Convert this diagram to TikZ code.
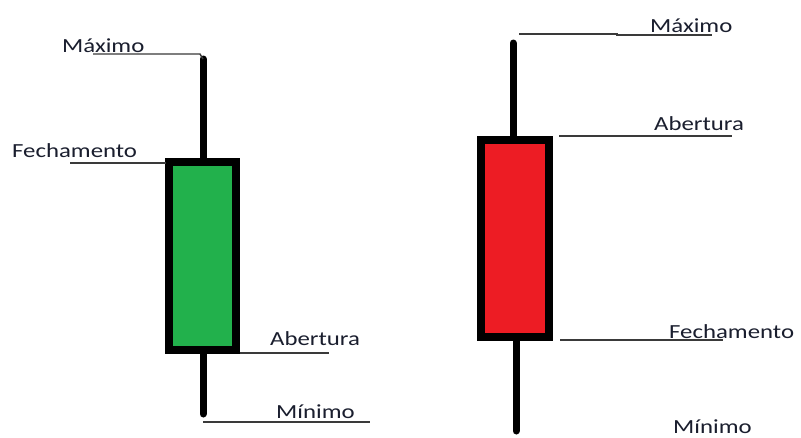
\documentclass[tikz,border=0pt]{standalone}
\usepackage{fontspec}
\setmainfont{Carlito}[FakeStretch=1.24]
\definecolor{txt}{HTML}{1A1E2E}
\definecolor{bullgreen}{HTML}{22B14C}
\definecolor{bearred}{HTML}{ED1C24}
\definecolor{leader}{HTML}{3A3A3A}
\tikzset{
  lbl/.style={anchor=base west, inner sep=0pt, font=\fontsize{20}{22}\selectfont, text=txt},
  wick/.style={line width=7pt, line cap=round, black},
  body/.style={line width=8pt, draw=black},
  lead/.style={line width=1.4pt, leader},
}
\begin{document}
\begin{tikzpicture}[x=1pt,y=-1pt]
\useasboundingbox (0,0) rectangle (801,437);
\fill[white] (0,0) rectangle (801,437);
% ---- left (bullish) candle ----
\coordinate (lwt) at (203,59);
\coordinate (lbt) at (203,162);
\coordinate (lbb) at (203,350);
\coordinate (lwb) at (203,414);
\draw[wick] (lwt) -- (lbt);
\draw[wick] (lbb) -- (lwb);
\draw[body, fill=bullgreen] (169,162) rectangle (236,350);
% labels left
\node[lbl] (lmax) at (62,52) {Máximo};
\node[lbl] (lfec) at (12,157) {Fechamento};
\node[lbl] (labe) at (270,345) {Abertura};
\node[lbl] (lmin) at (276,418) {Mínimo};
\coordinate (lmaxa) at (93,54);
\coordinate (lmaxb) at (200,54);
\coordinate (lfeca) at (70,163);
\coordinate (lfecb) at (166,163);
\coordinate (labea) at (240,353);
\coordinate (labeb) at (329,353);
\coordinate (lmina) at (203,422);
\coordinate (lminb) at (370,422);
\draw[lead] (lmaxa) -- (lmaxb) -- (lwt);
\draw[lead] (lfeca) -- (lfecb);
\draw[lead] (labea) -- (labeb);
\draw[lead] (lmina) -- (lminb);
% ---- right (bearish) candle ----
\coordinate (rwt) at (513,43);
\coordinate (rbt) at (513,140);
\coordinate (rbb) at (516,337);
\coordinate (rwb) at (516,431);
\draw[wick] (rwt) -- (rbt);
\draw[wick] (rbb) -- (rwb);
\draw[body, fill=bearred] (481,140) rectangle (549,337);
% labels right
\node[lbl] (rmax) at (650,32) {Máximo};
\node[lbl] (rabe) at (654,130) {Abertura};
\node[lbl] (rfec) at (669,338) {Fechamento};
\node[lbl] (rmin) at (673,433) {Mínimo};
\coordinate (rmaxa) at (519,34);
\coordinate (rmaxb) at (617,34);
\coordinate (rmaxc) at (617,35);
\coordinate (rmaxd) at (712,35);
\coordinate (rabea) at (559,136);
\coordinate (rabeb) at (732,136);
\coordinate (rfeca) at (560,340);
\coordinate (rfecb) at (723,340);
\draw[lead] (rmaxa) -- (rmaxb) -- (rmaxc) -- (rmaxd);
\draw[lead] (rabea) -- (rabeb);
\draw[lead] (rfeca) -- (rfecb);
\end{tikzpicture}
\end{document}
